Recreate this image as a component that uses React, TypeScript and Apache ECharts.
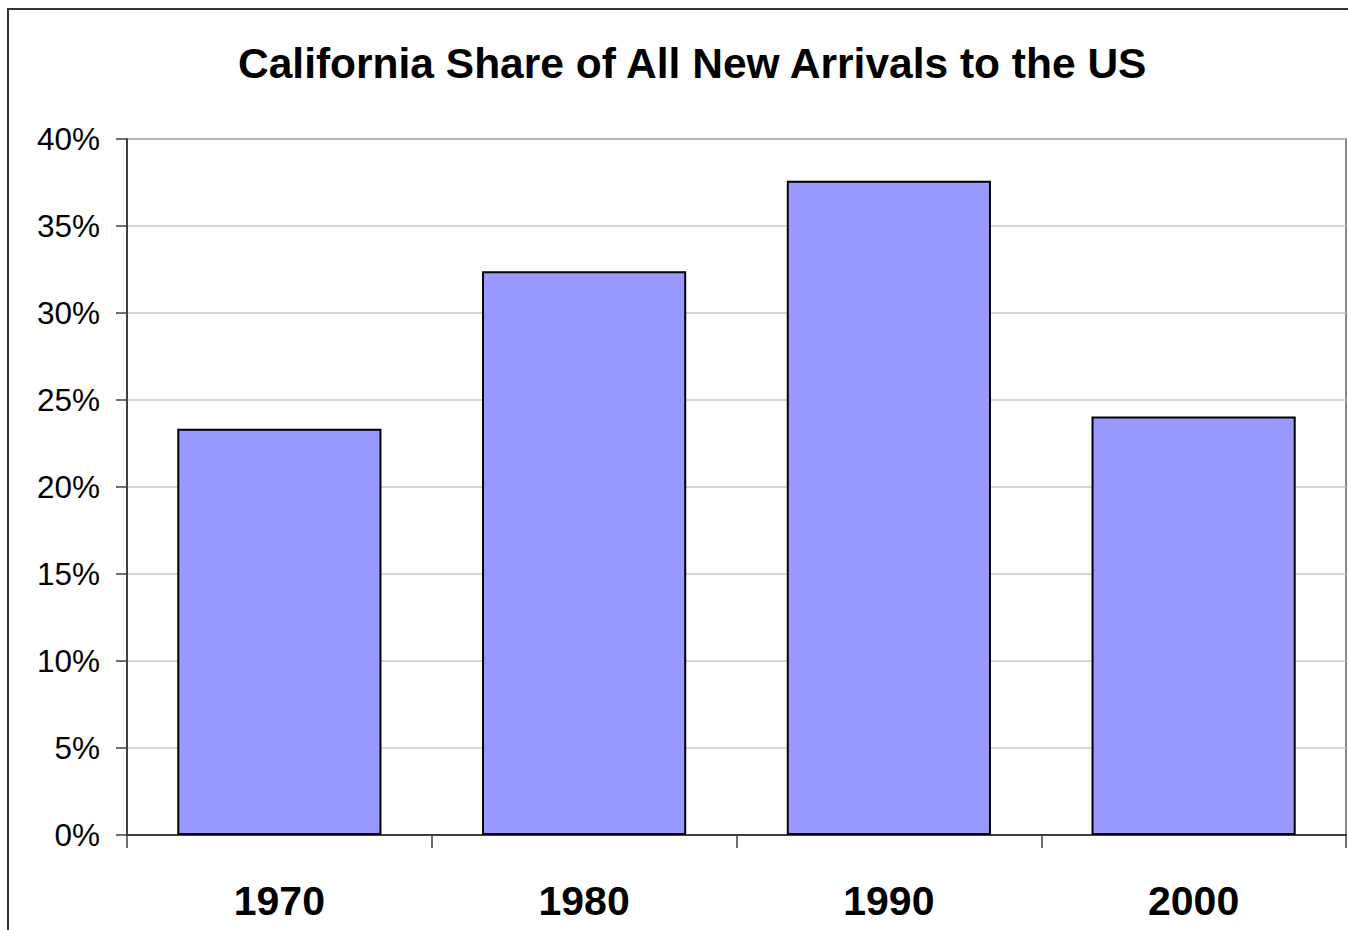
import React, { useEffect, useRef } from "react";
import * as echarts from "echarts";

const titleText = "California Share of All New Arrivals to the US";
const categories = ["1970", "1980", "1990", "2000"];
const shareValues = [23.35, 32.4, 37.6, 24.05];
const yTicks = [0, 5, 10, 15, 20, 25, 30, 35, 40];

export default function App() {
  const ref = useRef<HTMLDivElement>(null);
  useEffect(() => {
    if (!ref.current) return;
    const chart = echarts.init(ref.current, null, { renderer: "svg" });
    chart.setOption({
      animation: false,
      backgroundColor: "#ffffff",
      title: {
        text: titleText,
        left: 233,
        top: 37,
        textStyle: {
          fontFamily: "Liberation Sans, Arial, sans-serif",
          fontWeight: "bold",
          fontSize: 42.5,
          color: "#000",
        },
      },
      graphic: [
        {
          type: "rect",
          shape: { x: 8, y: 9, width: 1400, height: 1000 },
          style: { fill: "none", stroke: "#333", lineWidth: 2 },
          silent: true,
          z: 100,
        },
      ],
      grid: {
        left: 127,
        right: 2,
        top: 139,
        bottom: 95,
        show: true,
        borderColor: "#888",
        borderWidth: 2,
      },
      xAxis: {
        type: "category",
        data: categories,
        axisLine: { lineStyle: { color: "#404040", width: 2 } },
        axisTick: { show: true, length: 13, alignWithLabel: false, lineStyle: { color: "#404040", width: 1.5 } },
        axisLabel: {
          margin: 45,
          fontFamily: "Liberation Sans, Arial, sans-serif",
          fontWeight: "bold",
          fontSize: 41,
          color: "#000",
        },
      },
      yAxis: {
        type: "value",
        min: yTicks[0],
        max: yTicks[yTicks.length - 1],
        interval: 5,
        axisLine: { show: true, lineStyle: { color: "#404040", width: 2 } },
        axisTick: { show: true, length: 11, lineStyle: { color: "#404040", width: 1.5 } },
        splitLine: { show: true, lineStyle: { color: "#c8c8c8", width: 1.5 } },
        axisLabel: {
          margin: 27,
          formatter: "{value}%",
          fontFamily: "Liberation Sans, Arial, sans-serif",
          fontSize: 31.5,
          color: "#000",
        },
      },
      series: [
        {
          type: "bar",
          data: shareValues,
          barWidth: "67%",
          itemStyle: { color: "#9999ff", borderColor: "#000", borderWidth: 2 },
        },
      ],
    });
    return () => chart.dispose();
  }, []);
  return (
    <div
      ref={ref}
      style={{ position: "fixed", left: 0, top: 0, width: 1348, height: 930 }}
    />
  );
}
